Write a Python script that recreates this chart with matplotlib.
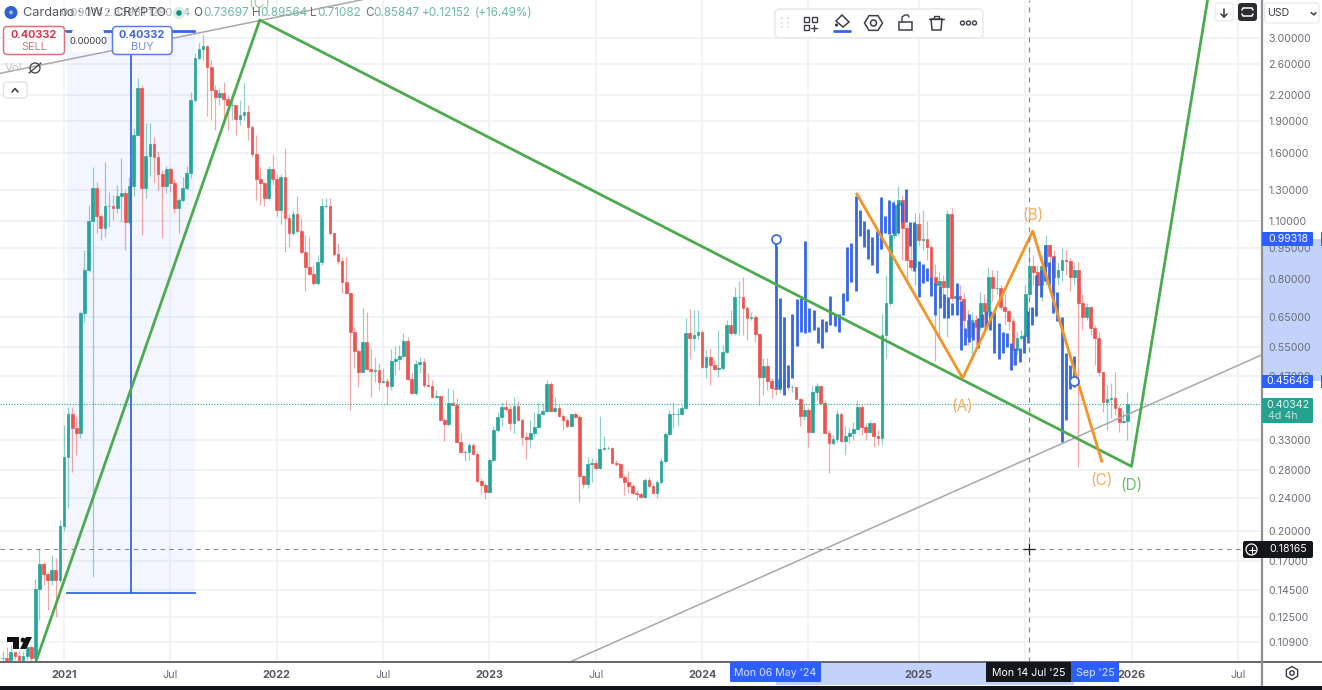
import matplotlib
matplotlib.use("Agg")
import matplotlib.pyplot as plt
import matplotlib.dates as mdates
from matplotlib.patches import FancyBboxPatch, Rectangle, Circle, Polygon
import numpy as np
import pandas as pd

plt.rcParams['font.family'] = ['Inter', 'DejaVu Sans']

# weekly candles, first one is the week of 21 Sep 2020
first_week = "2020-09-21"
closes = [
    .100, .099, .103, .101, .099, .101, .106, .100, .146, .167,
    .158, .153, .162, .153, .206, .301, .380, .352, .343, .663,
    .840, 1.10, 1.32, 1.13, 1.055, 1.19, 1.19, 1.18, 1.26, 1.28,
    1.09, 1.33, 1.76, 2.28, 1.32, 1.57, 1.68, 1.56, 1.42, 1.33,
    1.46, 1.35, 1.18, 1.23, 1.32, 1.43, 2.13, 2.69, 2.82, 2.87,
    2.56, 2.25, 2.17, 2.22, 2.15, 2.08, 2.08, 1.92, 1.97, 2.00,
    1.84, 1.59, 1.38, 1.35, 1.25, 1.46, 1.38, 1.17, 1.40, 1.12,
    1.03, 1.14, 1.04, .926, .852, .82, .78, .876, 1.19, 1.19,
    1.03, .915, .88, .785, .74, .597, .538, .48, .566, .487,
    .482, .485, .454, .456, .444, .51, .515, .524, .569, .462,
    .428, .50, .506, .446, .444, .418, .421, .368, .36, .404,
    .401, .327, .309, .309, .321, .306, .264, .258, .248, .296,
    .348, .374, .395, .391, .362, .397, .368, .336, .332, .343,
    .354, .38, .387, .449, .387, .393, .376, .368, .356, .38,
    .374, .271, .26, .289, .291, .283, .314, .316, .316, .291,
    .289, .27, .263, .256, .247, .246, .242, .265, .256, .247,
    .263, .294, .341, .382, .382, .382, .393, .594, .578, .588,
    .597, .493, .521, .498, .487, .49, .535, .62, .594, .724,
    .724, .68, .645, .648, .59, .467, .496, .456, .439, .437,
    .462, .449, .441, .441, .414, .376, .389, .345, .43, .444,
    .404, .343, .325, .332, .382, .329, .337, .343, .35, .395,
    .354, .346, .362, .337, .334, .588, .70, 1.02, 1.20, 1.23,
    1.06, .885, .852, 1.08, .99, .995, .953, .807, .775, .79,
    .765, 1.14, .72, .73, .716, .637, .581, .637, .613, .70,
    .672, .807, .76, .762, .685, .67, .635, .54, .578, .585,
    .735, .858, .83, .773, .858, .963, .905, .807, .84, .887,
    .881, .807, .84, .70, .65, .685, .61, .578, .48, .407,
    .414, .416, .393, .364, .366, .4034,
]
highs = [
    .104, .106, .107, .103, .104, .104, .11, .107, .154, .183,
    .169, .16, .176, .173, .213, .358, .395, .395, .374, .67,
    .937, 1.20, 1.48, 1.36, 1.14, 1.52, 1.29, 1.27, 1.34, 1.55,
    1.30, 1.40, 1.83, 2.41, 2.32, 1.88, 1.88, 1.74, 1.61, 1.45,
    1.49, 1.48, 1.38, 1.25, 1.40, 1.49, 2.23, 2.77, 2.93, 3.07,
    2.88, 2.66, 2.32, 2.28, 2.36, 2.19, 2.19, 2.08, 2.14, 2.35,
    2.08, 1.86, 1.76, 1.48, 1.36, 1.49, 1.59, 1.42, 1.42, 1.64,
    1.14, 1.17, 1.26, 1.12, 1.02, 1.005, .862, .91, 1.25, 1.25,
    1.25, 1.03, .973, .90, .90, .74, .613, .541, .683, .665,
    .544, .521, .504, .49, .464, .544, .553, .556, .594, .581,
    .48, .512, .521, .518, .476, .459, .434, .423, .372, .439,
    .434, .416, .343, .313, .325, .325, .309, .268, .261, .299,
    .356, .385, .407, .412, .40, .418, .41, .372, .345, .368,
    .385, .407, .404, .459, .454, .418, .40, .382, .372, .382,
    .385, .378, .272, .301, .299, .296, .376, .337, .319, .318,
    .296, .291, .272, .278, .26, .251, .248, .268, .27, .26,
    .265, .299, .346, .389, .407, .393, .40, .645, .677, .674,
    .674, .604, .541, .547, .512, .604, .556, .638, .674, .763,
    .79, .807, .69, .665, .655, .594, .518, .518, .464, .459,
    .471, .464, .454, .446, .441, .416, .404, .393, .446, .451,
    .446, .412, .348, .339, .389, .385, .357, .352, .364, .412,
    .40, .362, .368, .362, .348, .658, .815, 1.07, 1.23, 1.33,
    1.27, 1.08, .965, 1.15, 1.15, 1.17, 1.10, .965, .87, .83,
    .815, 1.17, 1.18, .775, .775, .74, .674, .665, .655, .745,
    .735, .852, .84, .84, .775, .735, .674, .645, .597, .604,
    .775, .937, .91, .862, .91, 1.02, .963, .937, .876, .947,
    .937, .896, .876, .876, .735, .70, .69, .62, .597, .48,
    .446, .451, .48, .40, .389, .43,
]
lows = [
    .095, .095, .099, .099, .095, .095, .099, .095, .095, .123,
    .149, .13, .149, .125, .151, .2, .228, .277, .304, .334,
    .632, .83, .156, 1.03, .99, 1.005, 1.065, 1.105, 1.15, 1.09,
    .937, 1.08, 1.26, 1.75, 1.02, 1.25, 1.41, 1.36, 1.30, 1.00,
    1.28, 1.29, 1.15, 1.03, 1.22, 1.30, 1.39, 2.11, 2.66, 2.66,
    1.96, 1.91, 1.81, 2.08, 1.86, 1.81, 1.91, 1.76, 1.86, 1.91,
    1.71, 1.56, 1.23, 1.20, 1.19, 1.23, 1.34, 1.13, 1.08, .926,
    .953, 1.02, 1.03, .915, .747, .815, .775, .775, .862, 1.18,
    1.02, .905, .87, .74, .735, .389, .49, .441, .48, .485,
    .418, .454, .434, .451, .401, .434, .471, .485, .518, .459,
    .426, .423, .476, .441, .441, .416, .416, .366, .329, .357,
    .40, .325, .307, .294, .296, .304, .263, .246, .239, .247,
    .293, .345, .357, .387, .348, .343, .366, .321, .297, .316,
    .336, .352, .378, .385, .385, .385, .374, .348, .352, .354,
    .372, .235, .254, .254, .263, .28, .281, .313, .314, .289,
    .287, .268, .244, .247, .246, .238, .24, .24, .254, .246,
    .24, .26, .291, .337, .352, .357, .378, .389, .515, .541,
    .572, .49, .464, .446, .485, .467, .485, .532, .588, .588,
    .588, .588, .572, .638, .566, .40, .423, .434, .416, .423,
    .428, .439, .434, .43, .412, .356, .368, .318, .343, .412,
    .40, .341, .275, .321, .327, .327, .304, .325, .33, .348,
    .339, .33, .343, .318, .321, .321, .518, .69, 1.00, 1.02,
    .885, .79, .84, .775, .965, .937, .885, .775, .51, .581,
    .71, .581, .71, .674, .62, .604, .556, .518, .556, .604,
    .604, .655, .71, .735, .674, .62, .604, .498, .527, .572,
    .588, .71, .775, .735, .71, .775, .862, .735, .775, .79,
    .815, .75, .775, .285, .604, .638, .588, .498, .47, .385,
    .348, .372, .378, .345, .362, .33,
]

# blue bars pattern, May 2024 to Sep 2025
pattern_start = "2024-05-06"
pattern_end = "2025-09-29"
pattern_tops = [
    .96, .72, .648, .498, .658, .716, .72, .984, .68, .674,
    .613, .641, .635, .727, .658, .658, .74, .952, .973, 1.26,
    1.17, 1.10, 1.05, 1.005, 1.04, 1.255, 1.13, 1.23, 1.22, 1.21,
    1.22, 1.31, 1.095, 1.09, .88, .87, .85, .81, .78, .77,
    .735, .724, .70, .78, .71, .61, .66, .63, .645, .658,
    .672, .672, .665, .628, .597, .594, .563, .547, .547, .588,
    .672, .685, .817, .84, .963, .876, .90, .745, .648, .532,
    .498, .524,
]
pattern_bottoms = [
    .439, .439, .423, .441, .464, .553, .597, .594, .597, .604,
    .563, .547, .597, .62, .617, .597, .655, .708, .785, .75,
    1.01, .952, .89, .862, .826, .94, 1.03, 1.025, 1.03, 1.03,
    1.09, 1.09, .96, .835, .724, .78, .79, .727, .657, .68,
    .645, .645, .655, .655, .541, .556, .566, .572, .547, .613,
    .61, .604, .532, .515, .532, .55, .484, .498, .506, .532,
    .563, .62, .652, .724, .79, .775, .662, .635, .327, .368,
    .437, .441,
]

# drawn lines, (date, price)
green_dates = ["2020-11-17", "2021-12-05", "2026-01-05", "2026-06-12"]
green_prices = [.098, 3.31, .2858, 6.39]
orange_dates = ["2024-09-22", "2025-03-22", "2025-07-20", "2025-11-15"]
orange_prices = [1.274, .464, 1.04, .294]
gray_dates = ["2023-05-20", "2026-08-16"]
gray_prices = [.0977, .527]
gray2_dates = ["2020-09-16", "2022-05-29"]
gray2_prices = [2.47, 3.70]

price_ticks = [3.0, 2.6, 2.2, 1.9, 1.6, 1.3, 1.1, .95, .8, .65, .55, .47, .33, .28, .24, .2, .17, .145, .125, .109]
year_dates = ["2021-01-04", "2022-01-03", "2023-01-02", "2024-01-01", "2025-01-06", "2026-01-05"]
year_labels = ["2021", "2022", "2023", "2024", "2025", "2026"]
jul_dates = ["2021-07-05", "2022-07-04", "2023-07-03", "2024-07-01", "2025-07-07", "2026-07-06"]
# the 2024 and 2025 ones sit under the date boxes in the picture
jul_labels = ["Jul", "Jul", "Jul", "", "", "Jul"]

last_price = 0.40342
cross_price = 0.18165
cross_date = "2025-07-14"
upper_anchor = 0.99318
lower_anchor = 0.45646

GREEN = "#26a69a"
RED = "#ef5350"
BLUE = "#3567e6"
LINE_GREEN = "#4caa4f"
ORANGE = "#f59324"
LABEL_ORANGE = "#f8ac5c"
GRID = "#eef1f5"
TXT = "#6a6d75"


def num(d):
    return mdates.date2num(pd.Timestamp(d))


W, H = 1322, 690
fig = plt.figure(figsize=(W / 100, H / 100), dpi=100, facecolor="white")
ax = fig.add_axes([0, (H - 662) / H, 1262 / W, 662 / H])

week_x = mdates.date2num(pd.date_range(first_week, periods=len(closes), freq="7D"))
opens = [closes[0]] + closes[:-1]
colors = [GREEN if c >= o else RED for o, c in zip(opens, closes)]
bottoms = [min(o, c) for o, c in zip(opens, closes)]
heights = [abs(o - c) for o, c in zip(opens, closes)]

ax.vlines(week_x, lows, highs, colors=colors, linewidth=0.9, alpha=0.5, zorder=2)
ax.bar(week_x, heights, bottom=bottoms, width=4.6, color=colors, edgecolor=colors, linewidth=0.5, zorder=2.1)

pattern_x = np.linspace(num(pattern_start), num(pattern_end), len(pattern_tops))
ax.vlines(pattern_x, pattern_bottoms, pattern_tops, colors=BLUE, linewidth=2.0, zorder=3)
ax.plot([num(pattern_start)] * 2, [upper_anchor, pattern_tops[0]], color=BLUE, lw=1.6, zorder=3)

# long position box
pos_left, pos_right, pos_mid = num("2021-01-09"), num("2021-08-16"), num("2021-04-29")
pos_top, pos_bottom, pos_peak = 3.10, .1427, 2.73
ax.fill_between([pos_left, pos_right], pos_bottom, pos_top, color="#2962ff", alpha=0.05, lw=0, zorder=1)
ax.plot([pos_left, pos_right], [pos_bottom, pos_bottom], color=BLUE, lw=1.3, zorder=3)
ax.plot([pos_left, pos_right], [pos_top, pos_top], color=BLUE, lw=1.3, zorder=3)
ax.plot([pos_mid, pos_mid], [pos_bottom, pos_peak], color=BLUE, lw=1.3, zorder=3)

ax.plot(mdates.date2num(pd.to_datetime(gray_dates)), gray_prices, color="#a8a8a8", lw=1.1, zorder=3.5)
ax.plot(mdates.date2num(pd.to_datetime(gray2_dates)), gray2_prices, color="#a8a8a8", lw=1.1, zorder=3.5)
ax.plot(mdates.date2num(pd.to_datetime(green_dates)), green_prices, color=LINE_GREEN, lw=2.0, zorder=4)
ax.plot(mdates.date2num(pd.to_datetime(orange_dates)), orange_prices, color=ORANGE, lw=2.0, zorder=4)

ax.plot([num(pattern_start), num(pattern_end)], [upper_anchor, lower_anchor], ls="none", marker="o",
        ms=6.5, mfc="white", mec=BLUE, mew=1.2, zorder=5)

ax.text(num(orange_dates[0]) + 181, .396, "(A)", color=LABEL_ORANGE, fontsize=11, ha="center", va="center", zorder=6)
ax.text(num(orange_dates[2]), 1.135, "(B)", color=LABEL_ORANGE, fontsize=11, ha="center", va="center", zorder=6)
ax.text(num(orange_dates[3]), .2645, "(C)", color=LABEL_ORANGE, fontsize=11, ha="center", va="center", zorder=6)
ax.text(num(green_dates[2]), .2575, "(D)", color="#6fbb72", fontsize=11, ha="center", va="center", zorder=6)
ax.text(num(green_dates[1]), 3.62, "(C)", color="#a5d3a7", fontsize=11, ha="center", va="center", zorder=6)

ax.axhline(last_price, color=GREEN, lw=0.8, ls=(0, (1, 1.5)), zorder=2.5)
ax.axhline(cross_price, color="#8a8a8a", lw=0.8, ls=(0, (4, 4)), zorder=5)
ax.axvline(num(cross_date), color="#8a8a8a", lw=0.9, ls=(0, (4, 4)), zorder=5)
ax.plot([num(cross_date)], [cross_price], marker="+", ms=9, mew=0.9, color="#222222", zorder=6)

ax.set_yscale("log")
ax.set_ylim(3 * np.exp(-624 / 182.2), 3 * np.exp(38 / 182.2))
x0 = num("2021-01-04")
ax.set_xlim(x0 - 64 / 0.5843, x0 + 1198 / 0.5843)

ax.yaxis.tick_right()
ax.set_yticks(price_ticks)
ax.set_yticklabels([f"{p:.5f}" for p in price_ticks], fontsize=7.6, color=TXT)
ax.minorticks_off()
ax.tick_params(axis="y", length=0, pad=4.5, which="both")

tick_x = [num(d) for d in year_dates + jul_dates]
ax.set_xticks(tick_x)
ax.set_xticklabels(year_labels + jul_labels, fontsize=7.8, color=TXT)
for lab in ax.get_xticklabels()[:len(year_labels)]:
    lab.set_fontweight("bold")
    lab.set_color("#55585f")
ax.tick_params(axis="x", length=0, pad=5.5)
ax.set_axisbelow(True)
ax.grid(True, color=GRID, lw=1.1)
for s in ["top", "left", "bottom", "right"]:
    ax.spines[s].set_visible(False)

# highlighted ranges on the two scales
ax.add_patch(Rectangle((1.0, lower_anchor), 60 / 1262, upper_anchor - lower_anchor, transform=ax.get_yaxis_transform(),
                       fc="#c3d2fb", lw=0, clip_on=False, zorder=0.5))
ax.add_patch(Rectangle((num(pattern_start), -23 / 662), num(pattern_end) - num(pattern_start), 23 / 662,
                       transform=ax.get_xaxis_transform(), fc="#c3d2fb", lw=0, clip_on=False, zorder=0.5))

# interface parts on top, in screen pixels
ui = fig.add_axes([0, 0, 1, 1], facecolor="none")
ui.set_xlim(0, W)
ui.set_ylim(H, 0)
ui.axis("off")


def box(x0, y0, x1, y1, fc="white", ec="none", r=3, lw=1.0, z=5, alpha=None):
    ui.add_patch(FancyBboxPatch((x0, y0), x1 - x0, y1 - y0, boxstyle=f"round,pad=0,rounding_size={r}",
                                fc=fc, ec=ec, lw=lw, zorder=z, alpha=alpha))


def label(x, y, s, color=TXT, size=7.6, ha="center", weight="normal", z=8):
    ui.text(x, y, s, color=color, fontsize=size, ha=ha, va="center", fontweight=weight, zorder=z)


def stroke(xs, ys, color="#3c3f46", lw=1.0, z=8):
    ui.plot(xs, ys, color=color, lw=lw, zorder=z, solid_capstyle="round")


# axes frame and the black strip at the bottom
stroke([0, W], [661.5, 661.5], color="#5a5c60", lw=1.3, z=4)
stroke([1262, 1262], [0, 685], color="#8e8f92", lw=1.6, z=4)
ui.add_patch(Rectangle((0, 686), W, 4, fc="#111318", lw=0, zorder=9))

# top left legend
ui.add_patch(Circle((11, 12.5), 6.5, fc="#2f62cf", lw=0, zorder=7))
ui.add_patch(Circle((11, 12.5), 2, fc="#9db8ee", lw=0, zorder=8))
box(50, 3, 212, 23, fc="white", alpha=0.55, r=5, z=6)
label(23, 13, "Cardano · 1W · CRYPTO", color="#55585f", size=9.2, ha="left")
label(60, 13, "0.09014", color="#a5a8ad", size=8.2, ha="left", z=7)
label(103, 13, "2.33931", color="#a5a8ad", size=8.2, ha="left", z=7)
label(148, 13, "1290.04", color="#a5a8ad", size=8.2, ha="left", z=7)
ui.add_patch(Circle((179, 13), 6, fc="#d6ece8", lw=0, zorder=7))
ui.add_patch(Circle((179, 13), 2.8, fc="#0f8f7d", lw=0, zorder=8))
label(198, 13, "O", color="#55585f", size=8.4)
for xpos, s in [(203, "0.73697"), (260, "0.89564"), (317, "0.71082"), (373, "0.85847"), (422, "+0.12152"), (475, "(+16.49%)")]:
    label(xpos, 13, s, color="#6cb9aa", size=8.4, ha="left")
for xpos, s in [(256, "H"), (313, "L"), (369, "C")]:
    label(xpos, 13, s, color="#6a6d75", size=8.4)

# sell and buy boxes
stroke([65, 112], [31, 31], color=BLUE, lw=1.3, z=5)
stroke([172, 195], [31, 31], color=BLUE, lw=1.3, z=5)
box(72, 30, 104, 52, fc="white", r=2)
box(3.5, 26.5, 64.5, 54.5, ec="#e0707c", r=4, lw=1.1)
label(34, 35, "0.40332", color="#d9394e", size=7.8, weight="bold")
label(34, 47, "SELL", color="#e0707c", size=7.8)
label(88, 41, "0.00000", color="#3c3f46", size=6.8)
box(112.5, 26.5, 172, 54.5, ec="#5b7fe8", r=4, lw=1.1)
label(142, 35, "0.40332", color="#3f66dc", size=7.8, weight="bold")
label(142, 47, "BUY", color="#6f8de6", size=7.8)

# volume legend and collapse button
label(13, 68, "Vol", color="#c3c5c9", size=8.2)
ui.add_patch(Circle((35, 68), 5, fc="none", ec="#4a4c52", lw=1, zorder=7))
stroke([29, 41], [73, 63], color="#4a4c52", z=8)
box(3.5, 82, 27, 98, ec="#dfe1e5", r=3, lw=0.9)
stroke([12, 15, 18], [92, 88.5, 92], color="#33353a", lw=1.1)

# drawing toolbar
box(775, 9, 983, 38, ec="#e9eaec", r=5, lw=1.2)
for dx in [782, 788]:
    for dy in [18, 23, 27]:
        ui.add_patch(Circle((dx, dy), 0.8, fc="#c4c6ca", lw=0, zorder=8))
for sx, sy in [(804, 17), (812, 17), (804, 25)]:
    ui.add_patch(Rectangle((sx, sy), 5, 5, fc="none", ec="#3c3f46", lw=1, zorder=8))
stroke([811, 817], [27.5, 27.5])
stroke([814, 814], [24.5, 30.5])
ui.add_patch(Polygon([(836, 21), (842, 15), (849, 22), (843, 27)], closed=True, fc="white", ec="#3c3f46", lw=1.1, zorder=8))
ui.add_patch(Circle((836.5, 25), 1.6, fc="#3c3f46", lw=0, zorder=8))
stroke([834, 850], [30.5, 30.5], color=BLUE, lw=2)
ang = np.deg2rad([0, 60, 120, 180, 240, 300])
ui.add_patch(Polygon(np.c_[873.5 + 9 * np.cos(ang), 23 + 8.5 * np.sin(ang)], closed=True, fc="none", ec="#3c3f46", lw=1.1, zorder=8))
ui.add_patch(Circle((873.5, 23), 3, fc="none", ec="#3c3f46", lw=1.1, zorder=8))
ui.add_patch(Rectangle((899, 22), 13, 8, fc="none", ec="#3c3f46", lw=1.1, zorder=8))
stroke([902, 902, 905, 908, 909], [22, 17, 15, 15, 17])
ui.add_patch(Polygon([(931, 19), (942, 19), (941, 30), (932, 30)], closed=True, fc="none", ec="#3c3f46", lw=1.1, zorder=8))
stroke([929, 944], [18.5, 18.5])
stroke([934, 934, 939, 939], [18, 15.5, 15.5, 18])
for dx in [962.5, 968.5, 974.5]:
    ui.add_patch(Circle((dx, 23), 2, fc="white", ec="#3c3f46", lw=1, zorder=8))

# top right buttons
box(1215, 3, 1233, 21, ec="#eceded", r=3, lw=0.9)
stroke([1224, 1224], [9, 17], color="#33353a", lw=1.1)
stroke([1221, 1224, 1227], [14, 17, 14], color="#33353a", lw=1.1)
box(1238, 3, 1257, 21, fc="#2a2c30", r=3)
stroke([1242, 1243, 1252, 1253], [10, 8, 8, 10], color="white", lw=1.1)
stroke([1242, 1243, 1252, 1253], [14, 16, 16, 14], color="white", lw=1.1)
box(1264.5, 3, 1319, 23, ec="#e8e9eb", r=3, lw=0.9)
label(1267, 13.5, "USD", color="#3c3f46", size=7.6, ha="left")
stroke([1311, 1314, 1316], [12.5, 15, 12.5], color="#33353a", lw=1.0)

# price labels
box(1262, 232, 1313, 246, fc="#2d5fff", r=1)
label(1288, 239, "0.99318", color="white", size=7.6)
ui.add_patch(Rectangle((1321, 232), 1, 14, fc="#2d5fff", lw=0, zorder=6))
box(1262, 375, 1313, 388, fc="#2d5fff", r=1)
label(1288, 381.5, "0.45646", color="white", size=7.6)
ui.add_patch(Rectangle((1321, 375), 1, 13, fc="#2d5fff", lw=0, zorder=6))
box(1262, 398, 1313, 423, fc="#26a08f", r=1)
label(1288, 404.5, "0.40342", color="#e6f5f2", size=7.6)
label(1268, 416, "4d 4h", color="#bfe5de", size=7.6, ha="left")
box(1243, 541, 1313, 558, fc="#14161b", r=2)
label(1288, 549.5, "0.18165", color="white", size=7.6)
ui.add_patch(Circle((1251.5, 549.5), 5.5, fc="none", ec="white", lw=0.9, zorder=8))
stroke([1248.5, 1254.5], [549.5, 549.5], color="white", lw=0.8)
stroke([1251.5, 1251.5], [546.5, 552.5], color="white", lw=0.8)

# time labels
box(730, 662, 821, 682, fc="#2d5fff", r=1)
label(775.5, 672.5, "Mon 06 May '24", color="#dbe5ff", size=7.6)
box(1065, 662, 1119, 682, fc="#2d5fff", r=1)
label(1095, 672.5, "Sep '25", color="#dbe5ff", size=7.6)
box(986, 662, 1071, 682, fc="#14161b", r=1)
label(1028.5, 672.5, "Mon 14 Jul '25", color="white", size=7.6)

# settings icon under the price scale
ang2 = np.deg2rad([30, 90, 150, 210, 270, 330])
ui.add_patch(Polygon(np.c_[1292 + 6.5 * np.cos(ang2), 673 + 6.5 * np.sin(ang2)], closed=True, fc="none", ec="#3c3f46", lw=1.0, zorder=8))
ui.add_patch(Circle((1292, 673), 2.2, fc="none", ec="#3c3f46", lw=1.0, zorder=8))

# chart logo, bottom left
ui.add_patch(Polygon([(7, 637), (19, 637), (19, 649), (13, 649), (13, 642), (7, 642)], closed=True, fc="#111", lw=0, zorder=8))
ui.add_patch(Circle((23, 640), 2.4, fc="#111", lw=0, zorder=8))
ui.add_patch(Polygon([(26, 637), (32, 637), (26, 649), (20, 649)], closed=True, fc="#111", lw=0, zorder=8))

fig.savefig("out.png", dpi=100)
